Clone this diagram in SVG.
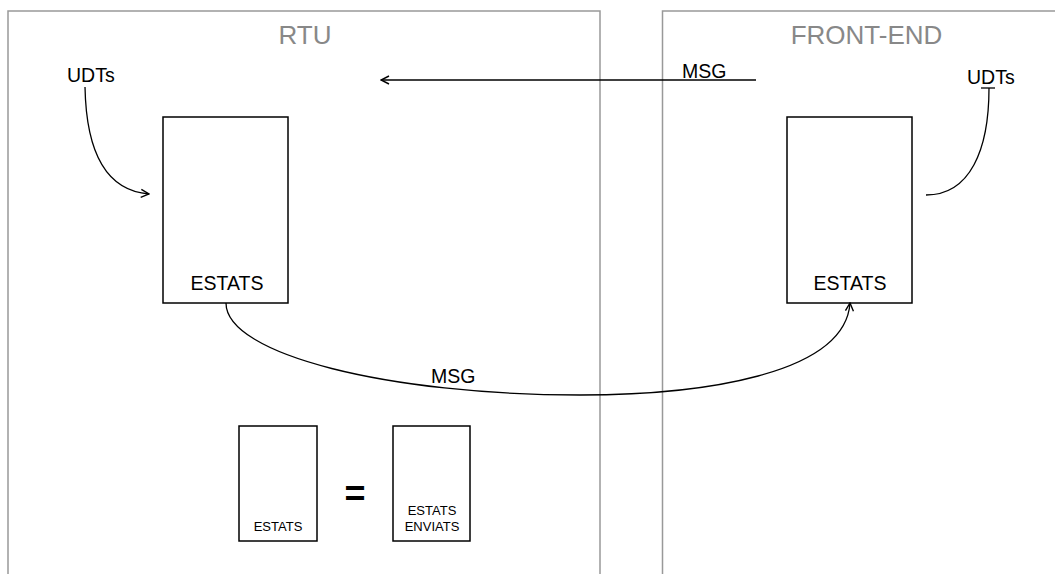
<svg xmlns="http://www.w3.org/2000/svg" width="1055" height="574" viewBox="0 0 1055 574">
<style>
.panel{fill:#fff;stroke:#999;stroke-width:1.5}
.ptitle{font-family:"Liberation Sans",Arial,sans-serif;font-size:26px;fill:#888;text-anchor:middle}
.box{fill:#fff;stroke:#000;stroke-width:1.5}
.lbl{font-family:"Liberation Sans",Arial,sans-serif;font-size:19.5px;fill:#000}
.sm{font-family:"Liberation Sans",Arial,sans-serif;font-size:13px;fill:#000;text-anchor:middle}
.conn{fill:none;stroke:#000;stroke-width:1.3}
</style>
<defs>
<marker id="open" viewBox="0 0 10 10" refX="9" refY="5" markerWidth="10" markerHeight="10" markerUnits="userSpaceOnUse" orient="auto">
<path d="M1,1 L9,5 L1,9" fill="none" stroke="#000" stroke-width="1.4"/>
</marker>
</defs>
<g id="rtu">
<rect class="panel" x="8" y="11" width="592" height="580"/>
<text class="ptitle" x="305" y="44">RTU</text>
</g>
<g id="front-end">
<rect class="panel" x="662.5" y="11" width="420" height="580"/>
<text class="ptitle" x="866.5" y="44">FRONT-END</text>
</g>
<g id="udts-left"><text class="lbl" x="67" y="82">UDTs</text></g>
<g id="udts-right"><text class="lbl" x="967" y="84">UDTs</text></g>
<g id="estats-rtu">
<rect class="box" x="163" y="117" width="125" height="186"/>
<text class="lbl" x="227" y="290" text-anchor="middle">ESTATS</text>
</g>
<g id="estats-fe">
<rect class="box" x="787" y="117" width="125" height="186"/>
<text class="lbl" x="850" y="290" text-anchor="middle">ESTATS</text>
</g>
<g id="estats-small">
<rect class="box" x="239" y="426" width="78" height="115"/>
<text class="sm" x="278" y="531">ESTATS</text>
</g>
<g id="equals"><text x="355" y="506" font-family="'Liberation Sans',Arial,sans-serif" font-size="36px" font-weight="bold" text-anchor="middle">=</text></g>
<g id="estats-enviats">
<rect class="box" x="393" y="426" width="77" height="115"/>
<text class="sm" x="432" y="515">ESTATS</text>
<text class="sm" x="432" y="531">ENVIATS</text>
</g>
<g id="connectors">
<path class="conn" d="M85,87 C86,140 100,190 149,194" marker-end="url(#open)"/>
<path class="conn" d="M756,80 L381,80" marker-end="url(#open)"/>
<text class="lbl" x="682" y="78">MSG</text>
<path class="conn" d="M981,88 L995,88"/>
<path class="conn" d="M989,88 C989,150 970,195 926,195"/>
<path class="conn" d="M226,303 C226,355 390,395 580,395 C700,395 845,375 850,303" marker-end="url(#open)"/>
<text class="lbl" x="431" y="383">MSG</text>
</g>
</svg>
